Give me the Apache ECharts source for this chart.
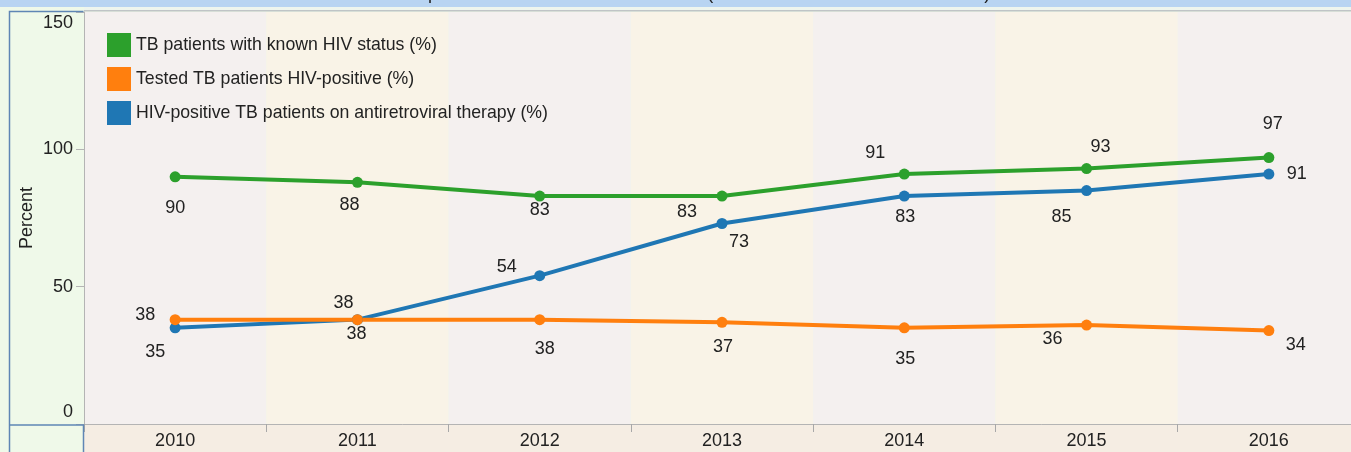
<!DOCTYPE html>
<html lang="en">
<head>
    <meta charset="utf-8"/>
    <script src="https://cdn.jsdelivr.net/npm/echarts@6/dist/echarts.min.js"></script>
    <title></title>
    <style>
        html, body { margin: 0; padding: 0; background: #eff9e9; overflow: hidden; }
    </style>
</head>
<body>
<div id="main" style="width: 1362px;height:452px;"></div>
<script type="text/javascript">

    var years = ['2010', '2011', '2012', '2013', '2014', '2015', '2016'];
    var yTicks = [0, 50, 100, 150];

    var knownStatus = [90, 88, 83, 83, 91, 93, 97];
    var hivPositive = [38, 38, 38, 37, 35, 36, 34];
    var onArt = [35, 38, 54, 73, 83, 85, 91];

    var names = [
        'TB patients with known HIV status (%)',
        'Tested TB patients HIV-positive (%)',
        'HIV-positive TB patients on antiretroviral therapy (%)'
    ];

    // where each value label sits relative to its point (layout only)
    var greenOff = [[0, 31], [-8, 23], [0, 14], [-35, 16], [-29, -21], [14, -22], [4, -34]];
    var orangeOff = [[-30, -5], [-1, 14], [5, 29], [1, 25], [1, 31], [-34, 14], [27, 14]];
    var blueOff = [[-20, 24], [-14, -17], [-33, -9], [17, 19], [1, 21], [-25, 26], [28, 0]];

    var font = 'Liberation Sans, Arial, sans-serif';

    function points(values, offs) {
        return values.map(function (v, i) {
            return {value: v, label: {offset: offs[i]}};
        });
    }

    function lineSeries(name, color, values, offs) {
        return {
            name: name,
            type: 'line',
            data: points(values, offs),
            symbol: 'circle',
            symbolSize: 11,
            lineStyle: {width: 4, color: color},
            itemStyle: {color: color},
            label: {
                show: true,
                position: 'inside',
                color: '#222',
                fontSize: 18,
                fontFamily: font
            }
        };
    }

    var myChart = echarts.init(document.getElementById('main'));

    var option = {
        animation: false,
        backgroundColor: '#eff9e9',
        title: {
            text: 'TB patients tested and treated for HIV (all notified TB cases 2010 to 2016)',
            left: 395,
            top: -20,
            textStyle: {fontSize: 18, fontWeight: 'normal', color: '#222', fontFamily: font}
        },
        graphic: [
            {type: 'rect', z: -20, shape: {x: 0, y: 0, width: 1362, height: 7}, style: {fill: '#b8d4f2'}},
            {type: 'rect', z: -20, shape: {x: 84, y: 424, width: 1278, height: 28}, style: {fill: '#f5ede3'}},
            {type: 'rect', z: 20, shape: {x: 84, y: 7, width: 1278, height: 3}, style: {fill: '#eef5ee'}},
            {type: 'rect', z: 20, shape: {x: 84, y: 10, width: 1278, height: 1.5}, style: {fill: '#bfc4c6'}},
            {type: 'polyline', z: 20, shape: {points: [[9.5, 452], [9.5, 11.5], [83.5, 11.5]]},
                style: {stroke: '#5f86b5', lineWidth: 1.5, fill: null}},
            {type: 'polyline', z: 20, shape: {points: [[9.5, 425], [83.5, 425], [83.5, 452]]},
                style: {stroke: '#5f86b5', lineWidth: 1.5, fill: null}}
        ],
        legend: {
            data: names,
            orient: 'vertical',
            left: 107,
            top: 33,
            padding: 0,
            itemGap: 10,
            itemWidth: 24,
            itemHeight: 24,
            icon: 'rect',
            textStyle: {fontSize: 17.7, color: '#222', fontFamily: font}
        },
        grid: {
            left: 84,
            top: 12,
            width: 1276,
            height: 412
        },
        xAxis: {
            type: 'category',
            data: years,
            boundaryGap: true,
            axisLine: {lineStyle: {color: '#b4b4b4'}},
            axisTick: {show: true, length: 8, lineStyle: {color: '#a8a8a8'}},
            axisLabel: {fontSize: 18, color: '#222', margin: 8, fontFamily: font},
            splitArea: {show: true, areaStyle: {color: ['#f4f0ef', '#f9f3e7']}},
            splitLine: {show: false}
        },
        yAxis: {
            type: 'value',
            min: yTicks[0],
            max: yTicks[yTicks.length - 1],
            interval: 50,
            name: 'Percent',
            nameLocation: 'middle',
            nameGap: 48,
            nameMoveOverlap: false,
            nameTextStyle: {fontSize: 18, color: '#222', fontFamily: font},
            axisLine: {show: true, lineStyle: {color: '#b4b4b4'}},
            axisTick: {show: true, length: 8, lineStyle: {color: '#b4b4b4'}},
            splitLine: {show: false},
            axisLabel: {
                fontSize: 18,
                color: '#222',
                margin: 11,
                fontFamily: font,
                formatter: function (v) {
                    if (v === 150) return '{top|' + v + '}';
                    if (v === 0) return '{bot|' + v + '}';
                    return '' + v;
                },
                rich: {
                    top: {fontSize: 18, color: '#222', fontFamily: font, padding: [22, 0, 0, 0]},
                    bot: {fontSize: 18, color: '#222', fontFamily: font, padding: [0, 0, 24, 0]}
                }
            }
        },
        series: [
            lineSeries(names[0], '#2ca02c', knownStatus, greenOff),
            lineSeries(names[2], '#1f77b4', onArt, blueOff),
            lineSeries(names[1], '#ff7f0e', hivPositive, orangeOff)
        ]
    };
    myChart.setOption(option);

</script>
</body>
</html>
